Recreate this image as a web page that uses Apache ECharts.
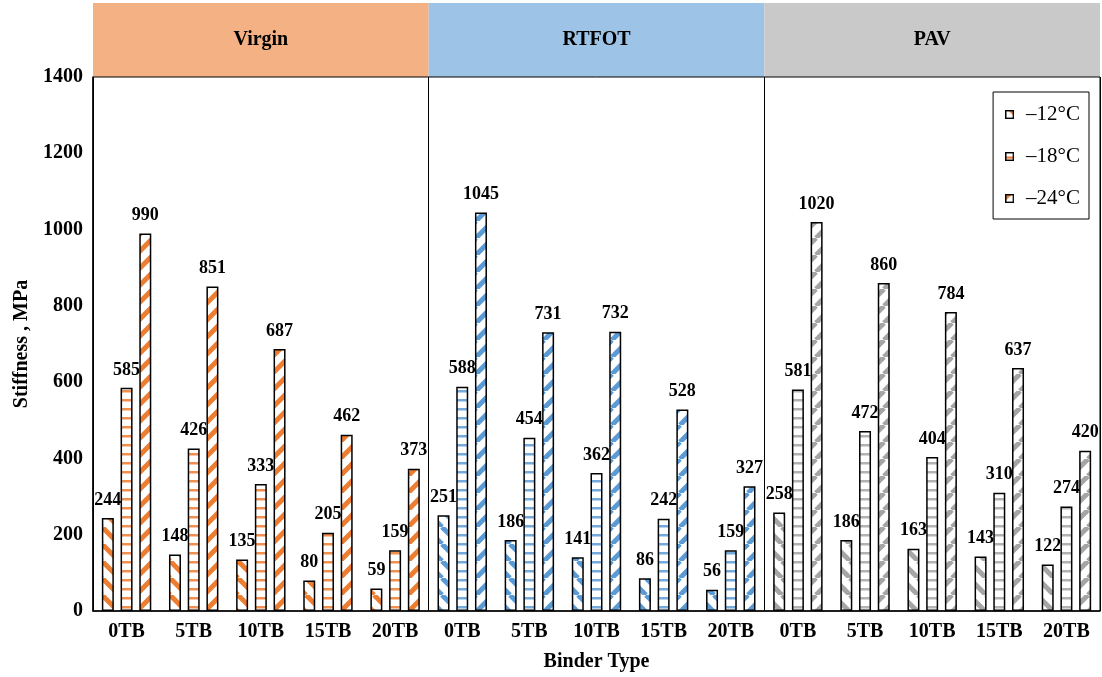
<!DOCTYPE html>
<html>
<head>
<meta charset="utf-8">
<script src="https://cdn.jsdelivr.net/npm/echarts@6/dist/echarts.min.js"></script>
<style>
  html, body { margin: 0; padding: 0; background: #fff; }
  #chart { width: 1102px; height: 677px; }
</style>
</head>
<body>
<div id="chart"></div>
<script>
// groups of binders and temperatures
var groups = ['Virgin', 'RTFOT', 'PAV'];
var binders = ['0TB', '5TB', '10TB', '15TB', '20TB'];
var temps = ['\u201312°C', '\u201318°C', '\u201324°C'];

// stiffness (MPa), Virgin / RTFOT / PAV, 0TB..20TB each
var stiff12 = [244, 148, 135, 80, 59, 251, 186, 141, 86, 56, 258, 186, 163, 143, 122];
var stiff18 = [585, 426, 333, 205, 159, 588, 454, 362, 242, 159, 581, 472, 404, 310, 274];
var stiff24 = [990, 851, 687, 462, 373, 1045, 731, 732, 528, 327, 1020, 860, 784, 637, 420];

var yMin = 0, yMax = 1400, yStep = 200;

var groupColors = ['#ED7D31', '#5B9BD5', '#A5A5A5'];
var headerColors = ['#F4B183', '#9DC3E6', '#C9C9C9'];
var font = 'Liberation Serif';

// small canvas tiles used as bar fill patterns
function stripes(color, kind) {
	var s = kind === 'h' ? 9 : 17;
	var c = document.createElement('canvas');
	c.width = s; c.height = s;
	var g = c.getContext('2d');
	g.fillStyle = '#fff';
	g.fillRect(0, 0, s, s);
	if (kind === 'h') {
		g.fillStyle = color;
		g.globalAlpha = 0.85;
		g.fillRect(0, 3, s, 2.5);
	} else {
		g.strokeStyle = color;
		g.lineWidth = 5;
		for (var k = -1; k <= 1; k++) {
			g.beginPath();
			if (kind === '/') {
				g.moveTo(k * s, s);
				g.lineTo(k * s + s, 0);
			} else {
				g.moveTo(k * s, 0);
				g.lineTo(k * s + s, s);
			}
			g.stroke();
		}
	}
	return { image: c, repeat: 'repeat' };
}

// legend swatch: a small bordered square showing a piece of the pattern
function swatch(color, kind) {
	var s = 10;
	var c = document.createElement('canvas');
	c.width = s; c.height = s;
	var g = c.getContext('2d');
	g.fillStyle = '#fff';
	g.fillRect(0, 0, s, s);
	g.fillStyle = color;
	g.beginPath();
	if (kind === 'h') {
		g.rect(1, 5, 8, 2.5);
	} else if (kind === '/') {
		g.moveTo(1, 1); g.lineTo(7, 1); g.lineTo(1, 7);
	} else {
		g.moveTo(4, 1); g.lineTo(9, 1); g.lineTo(9, 6);
	}
	g.fill();
	g.strokeStyle = '#000';
	g.lineWidth = 1.5;
	g.strokeRect(0.75, 0.75, s - 1.5, s - 1.5);
	return 'image://' + c.toDataURL();
}

var kinds = ['\\', 'h', '/'];
var patterns = groupColors.map(function (col) {
	return kinds.map(function (k) { return stripes(col, k); });
});

var categories = [];
groups.forEach(function (g) {
	binders.forEach(function (b) { categories.push(g + '|' + b); });
});

var values = [stiff12, stiff18, stiff24];

var series = temps.map(function (t, ti) {
	return {
		name: t,
		type: 'bar',
		xAxisIndex: 0,
		yAxisIndex: 0,
		barWidth: 12,
		barGap: '56%',
		itemStyle: { color: patterns[0][ti], borderColor: '#000', borderWidth: 1.5 },
		label: {
			show: true,
			position: 'top',
			distance: 9,
			color: '#000',
			fontFamily: font,
			fontWeight: 'bold',
			fontSize: 18
		},
		data: values[ti].map(function (v, i) {
			return { value: v, itemStyle: { color: patterns[Math.floor(i / binders.length)][ti] } };
		})
	};
});

// header band above the plot
series.push({
	type: 'bar',
	xAxisIndex: 2,
	yAxisIndex: 1,
	barCategoryGap: 0,
	silent: true,
	label: {
		show: true,
		position: 'inside',
		formatter: '{b}',
		color: '#000',
		fontFamily: font,
		fontWeight: 'bold',
		fontSize: 20
	},
	data: groups.map(function (g, i) {
		return { value: 1, itemStyle: { color: headerColors[i] } };
	})
});

var myChart = echarts.init(document.getElementById('chart'));

var option = {
	animation: false,
	backgroundColor: '#fff',
	grid: [
		{ left: 93, right: 2, top: 77, bottom: 65, show: true, borderColor: '#000', borderWidth: 1, z: 5 },
		{ left: 93, right: 2, top: 3, height: 74 }
	],
	legend: {
		data: temps.map(function (t, ti) {
			return { name: t, icon: swatch(groupColors[0], kinds[ti]) };
		}),
		orient: 'vertical',
		right: 13,
		top: 92,
		backgroundColor: '#fff',
		borderColor: '#000',
		borderWidth: 1,
		padding: [12, 9, 10, 12],
		itemWidth: 9,
		itemHeight: 9,
		itemGap: 21,
		textStyle: { fontFamily: font, fontSize: 21, color: '#000', lineHeight: 20, padding: [0, 0, 0, 7] }
	},
	xAxis: [
		{
			type: 'category',
			gridIndex: 0,
			data: categories,
			name: 'Binder Type',
			nameLocation: 'middle',
			nameGap: 41,
			nameTextStyle: { fontFamily: font, fontWeight: 'bold', fontSize: 20, color: '#000' },
			axisLine: { lineStyle: { color: '#000', width: 1.5 } },
			axisTick: { show: false },
			axisLabel: {
				interval: 0,
				margin: 11,
				fontFamily: font,
				fontWeight: 'bold',
				fontSize: 20,
				color: '#000',
				formatter: function (v) { return v.split('|')[1]; }
			}
		},
		{
			// group separators
			type: 'category',
			gridIndex: 0,
			position: 'top',
			data: groups,
			axisLine: { show: false },
			axisTick: { show: false },
			axisLabel: { show: false },
			splitLine: { show: true, interval: 0, lineStyle: { color: '#000', width: 1 } }
		},
		{
			type: 'category',
			gridIndex: 1,
			data: groups,
			axisLine: { show: false },
			axisTick: { show: false },
			axisLabel: { show: false }
		}
	],
	yAxis: [
		{
			type: 'value',
			gridIndex: 0,
			min: yMin,
			max: yMax,
			interval: yStep,
			name: 'Stiffness , MPa',
			nameLocation: 'middle',
			nameGap: 54,
			nameTextStyle: { fontFamily: font, fontWeight: 'bold', fontSize: 20, color: '#000' },
			axisLine: { show: true, lineStyle: { color: '#000', width: 1.5 } },
			axisTick: { show: false },
			splitLine: { show: false },
			axisLabel: {
				margin: 10,
				fontFamily: font,
				fontWeight: 'bold',
				fontSize: 20,
				color: '#000',
				formatter: function (v) { return String(v); }
			}
		},
		{
			type: 'value',
			gridIndex: 1,
			min: 0,
			max: 1,
			show: false
		}
	],
	series: series
};

myChart.setOption(option);
</script>
</body>
</html>
